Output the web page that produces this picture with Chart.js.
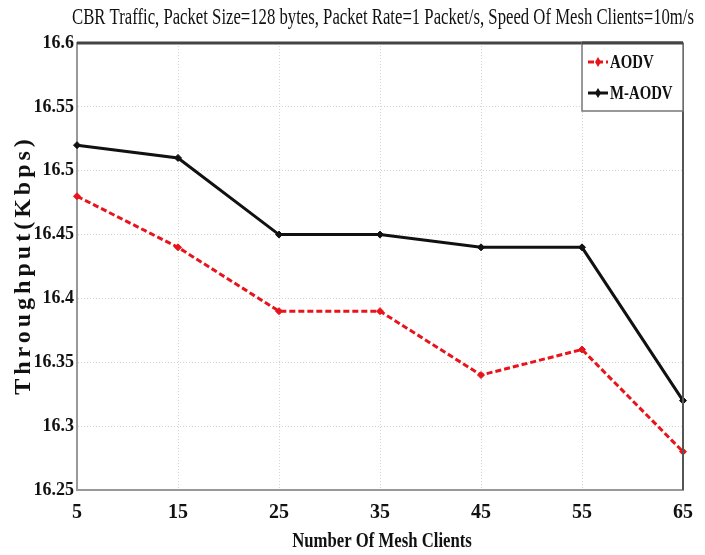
<!DOCTYPE html>
<html>
<head>
<meta charset="utf-8">
<script src="https://cdn.jsdelivr.net/npm/chart.js@4.4.1/dist/chart.umd.min.js"></script>
<style>
  html, body { margin: 0; padding: 0; background: #fff; }
  #wrap { width: 705px; height: 555px; }
</style>
</head>
<body>
<div id="wrap"><canvas id="chart" width="705" height="555"></canvas></div>
<script>
// chart data
const clients = [5, 15, 25, 35, 45, 55, 65];
const aodv = [16.48, 16.44, 16.39, 16.39, 16.34, 16.36, 16.28];
const maodv = [16.52, 16.51, 16.45, 16.45, 16.44, 16.44, 16.32];
const seriesNames = ['AODV', 'M-AODV'];

const titleText = 'CBR Traffic, Packet Size=128 bytes, Packet Rate=1 Packet/s, Speed Of Mesh Clients=10m/s';
const xTitle = 'Number Of Mesh Clients';
const yTitle = 'Throughput(Kbps)';

const serif = '"Liberation Serif", "DejaVu Serif", serif';

// draws text squeezed horizontally (the original uses a narrow Times face)
function drawNarrow(ctx, text, x, y, font, sx, align) {
    ctx.save();
    ctx.font = font;
    ctx.textBaseline = 'middle';
    ctx.textAlign = align || 'center';
    ctx.translate(x, y);
    ctx.scale(sx, 1);
    ctx.fillText(text, 0, 0);
    ctx.restore();
}

const decorations = {
    id: 'decorations',
    afterDraw(chart) {
        const ctx = chart.ctx;
        const a = chart.chartArea;
        ctx.save();
        ctx.fillStyle = '#111';

        // title, squeezed to the width of the plot
        ctx.font = '23px ' + serif;
        const tw = ctx.measureText(titleText).width;
        drawNarrow(ctx, titleText, 383, 18, '23px ' + serif, 622 / tw);

        // x axis title
        drawNarrow(ctx, xTitle, (a.left + a.right) / 2 + 2, 541, 'bold 22px ' + serif, 0.76);

        // y axis title
        ctx.save();
        ctx.translate(24, 265);
        ctx.rotate(-Math.PI / 2);
        ctx.font = 'bold 24px ' + serif;
        ctx.letterSpacing = '4px';
        ctx.textAlign = 'center';
        ctx.textBaseline = 'middle';
        ctx.fillText(yTitle, 0, 0);
        ctx.restore();

        // top and right frame
        ctx.strokeStyle = '#444';
        ctx.lineWidth = 3;
        ctx.beginPath();
        ctx.moveTo(a.left, a.top);
        ctx.lineTo(a.right, a.top);
        ctx.stroke();
        ctx.lineWidth = 2;
        ctx.strokeStyle = '#555';
        ctx.beginPath();
        ctx.moveTo(a.right, a.top);
        ctx.lineTo(a.right, a.bottom);
        ctx.stroke();

        // legend box in the upper right corner
        const lx = a.right - 101, ly = a.top, lw = 101, lh = 68;
        ctx.fillStyle = '#fff';
        ctx.fillRect(lx, ly, lw, lh);
        ctx.strokeStyle = '#777';
        ctx.lineWidth = 1.5;
        ctx.strokeRect(lx, ly, lw, lh);
        ctx.strokeStyle = '#444';
        ctx.lineWidth = 3;
        ctx.beginPath();
        ctx.moveTo(lx, ly);
        ctx.lineTo(a.right, ly);
        ctx.stroke();

        chart.data.datasets.forEach((ds, i) => {
            const y = ly + 19 + i * 31;
            ctx.strokeStyle = ds.borderColor;
            ctx.lineWidth = ds.borderWidth;
            ctx.setLineDash(ds.borderDash || []);
            ctx.beginPath();
            ctx.moveTo(lx + 6, y);
            ctx.lineTo(lx + 26, y);
            ctx.stroke();
            ctx.setLineDash([]);
            ctx.fillStyle = ds.borderColor;
            ctx.beginPath();
            ctx.moveTo(lx + 16, y - 5);
            ctx.lineTo(lx + 19, y);
            ctx.lineTo(lx + 16, y + 5);
            ctx.lineTo(lx + 13, y);
            ctx.closePath();
            ctx.fill();
            ctx.fillStyle = '#111';
            drawNarrow(ctx, ds.label, lx + 28, y + 1, 'bold 19px ' + serif, 0.78, 'left');
        });
        ctx.restore();
    }
};

const ctx = document.getElementById('chart').getContext('2d');

const chart = new Chart(ctx, {
    type: 'line',
    data: {
        datasets: [{
            label: seriesNames[0],
            data: clients.map((c, i) => ({ x: c, y: aodv[i] })),
            borderColor: '#e8141b',
            backgroundColor: '#e8141b',
            borderWidth: 3,
            borderDash: [6, 3],
            pointStyle: 'rectRot',
            pointRadius: 3.5,
            pointBorderWidth: 1,
            tension: 0,
            clip: false
        }, {
            label: seriesNames[1],
            data: clients.map((c, i) => ({ x: c, y: maodv[i] })),
            borderColor: '#111',
            backgroundColor: '#111',
            borderWidth: 3,
            pointStyle: 'rectRot',
            pointRadius: 3.5,
            pointBorderWidth: 1,
            tension: 0,
            clip: false
        }]
    },
    options: {
        responsive: false,
        animation: false,
        layout: {
            padding: { left: 0, right: 22, top: 43, bottom: 0 }
        },
        plugins: {
            legend: { display: false },
            title: { display: false },
            tooltip: { enabled: false }
        },
        scales: {
            x: {
                type: 'linear',
                min: 5,
                max: 65,
                ticks: {
                    stepSize: 10,
                    color: '#111',
                    font: { family: serif, size: 20, weight: 'bold' },
                    padding: 11,
                    maxRotation: 0
                },
                grid: {
                    color: '#d4d4d4',
                    lineWidth: 1,
                    drawTicks: false
                },
                border: { color: '#999', width: 2, dash: [1, 2] },
                afterFit: s => { s.height = 65; }
            },
            y: {
                min: 16.25,
                max: 16.6,
                ticks: {
                    stepSize: 0.05,
                    color: '#111',
                    font: { family: serif, size: 18, weight: 'bold' },
                    padding: 3,
                    callback: v => String(Math.round(v * 100) / 100)
                },
                grid: {
                    color: '#d4d4d4',
                    lineWidth: 1,
                    drawTicks: false
                },
                border: { color: '#999', width: 2, dash: [1, 2] },
                afterFit: s => { s.width = 77; }
            }
        }
    },
    plugins: [decorations]
});
</script>
</body>
</html>
